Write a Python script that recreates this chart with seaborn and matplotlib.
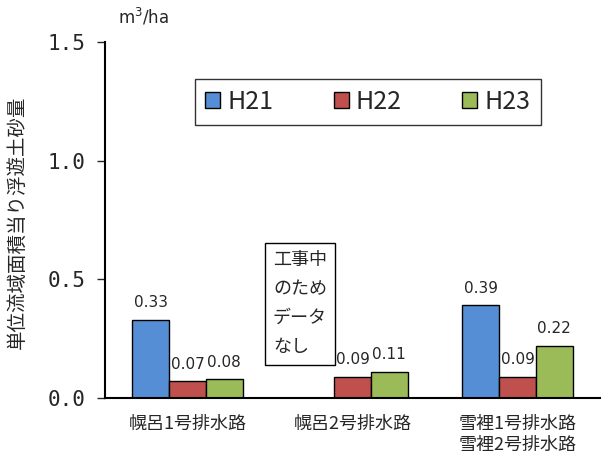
import numpy as np
import pandas as pd
import seaborn as sns
import matplotlib.pyplot as plt

# データ
categories = ["幌呂1号排水路", "幌呂2号排水路", "雪裡1号排水路\n雪裡2号排水路"]
years = ["H21", "H22", "H23"]
h21 = [0.33, np.nan, 0.39]
h22 = [0.07, 0.09, 0.09]
h23 = [0.08, 0.11, 0.22]
colors = ["#558ED5", "#C0504D", "#9BBB59"]

df = pd.DataFrame({"site": categories, "H21": h21, "H22": h22, "H23": h23})
long = df.melt(id_vars="site", var_name="year", value_name="value")

sns.set_style("white")
plt.rcParams["font.family"] = ["Noto Sans CJK JP", "DejaVu Sans"]

fig = plt.figure(figsize=(6.06, 4.59), dpi=100)
ax = fig.add_axes([105 / 606, 1 - 398 / 459, 495 / 606, 356 / 459])

sns.barplot(data=long, x="site", y="value", hue="year", hue_order=years,
            palette=colors, width=0.67, edgecolor="black", linewidth=1,
            saturation=1, ax=ax)

# 数値ラベル
for cont in ax.containers:
    for bar in cont:
        h = bar.get_height()
        if np.isnan(h):
            continue
        ax.text(bar.get_x() + bar.get_width() / 2, h + 0.04, f"{h:.2f}",
                ha="center", va="bottom", fontsize=11,
                family=["DejaVu Sans"])

ax.set_ylim(0, 1.5)
ax.set_xlim(-0.5, 2.5)
ax.set_yticks([0, 0.5, 1.0, 1.5])
ax.set_yticklabels(["0.0", "0.5", "1.0", "1.5"], fontsize=15,
                   family=["DejaVu Sans Mono"])
ax.set_xticks([0.5, 1.5], minor=True)
ax.tick_params(axis="x", which="major", length=0, labelsize=13, pad=12)
ax.tick_params(axis="x", which="minor", length=4, direction="in", width=1)
ax.tick_params(axis="y", length=6, direction="out", width=1, left=True, pad=8)
ax.set_xlabel("")
ax.set_ylabel("単位流域面積当り浮遊土砂量", fontsize=14)
ax.yaxis.set_label_coords(-0.156, 0.494)

sns.despine(ax=ax)
for s in ["left", "bottom"]:
    ax.spines[s].set_linewidth(1.5)
    ax.spines[s].set_color("black")

ax.text(0.026, 1.04, "m$^3$/ha", transform=ax.transAxes, fontsize=12,
        ha="left", va="bottom", family=["DejaVu Sans"])

leg = ax.legend(loc="upper left", bbox_to_anchor=(90 / 495, 1 - 37 / 356),
                ncol=3, fontsize=18, frameon=True, fancybox=False,
                edgecolor="black", handlelength=0.6, handleheight=0.6,
                handletextpad=0.3, columnspacing=2.4, borderpad=0.4,
                borderaxespad=0)
leg.get_frame().set_linewidth(1)

ax.text(0.518, 0.62, "工事中\nのため\nデータ\nなし", fontsize=13,
        ha="left", va="top", linespacing=1.8,
        bbox=dict(boxstyle="square,pad=0.45", facecolor="white",
                  edgecolor="black", linewidth=1))

fig.savefig("out.png", dpi=100)
